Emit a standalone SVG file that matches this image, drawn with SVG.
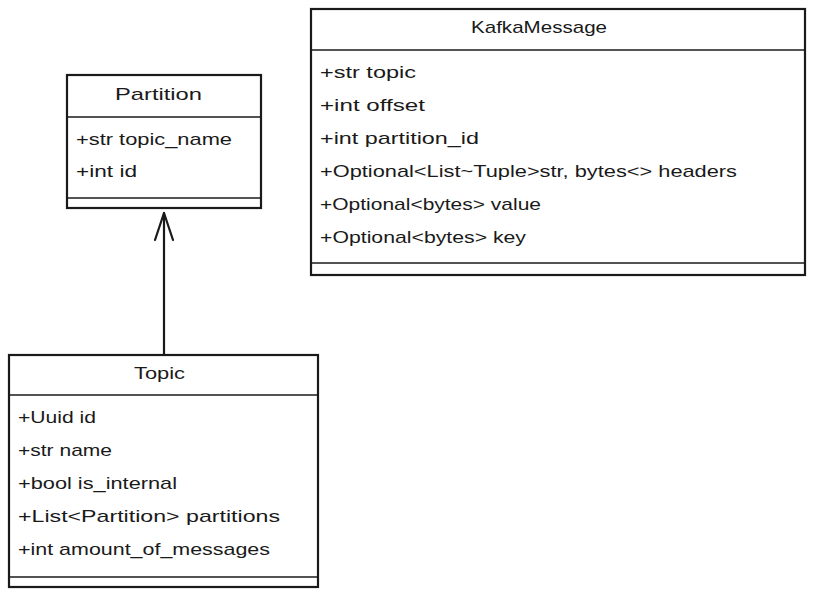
<svg xmlns="http://www.w3.org/2000/svg" width="814" height="598" viewBox="0 0 814 598">
<style>
.box{fill:#fff;stroke:#1a1a1a;stroke-width:2.2}
.div{stroke:#1a1a1a;stroke-width:1.3;fill:none}
.t{font-family:"Liberation Sans",Arial,sans-serif;font-size:17px;fill:#1a1a1a}
.c{text-anchor:middle}
.edge{stroke:#1a1a1a;stroke-width:2.2;fill:none;stroke-linecap:round;stroke-linejoin:round}
</style>
<rect width="814" height="598" fill="#fff"/>
<g id="edges">
<path class="edge" d="M164 354 L164 213"/>
<path class="edge" d="M155 240 L164 213 L173 240"/>
</g>
<g id="Partition">
<rect class="box" x="67" y="75" width="194" height="133"/>
<line class="div" x1="67" y1="117" x2="261" y2="117"/>
<line class="div" x1="67" y1="198" x2="261" y2="198"/>
<text class="t" x="115" y="100" textLength="87" lengthAdjust="spacingAndGlyphs">Partition</text>
<text class="t" x="76" y="145" textLength="156" lengthAdjust="spacingAndGlyphs">+str topic_name</text>
<text class="t" x="76" y="177" textLength="61" lengthAdjust="spacingAndGlyphs">+int id</text>
</g>
<g id="KafkaMessage">
<rect class="box" x="311" y="9" width="494" height="266"/>
<line class="div" x1="311" y1="50" x2="805" y2="50"/>
<line class="div" x1="311" y1="263" x2="805" y2="263"/>
<text class="t" x="471" y="33" textLength="136" lengthAdjust="spacingAndGlyphs">KafkaMessage</text>
<text class="t" x="320" y="78" textLength="96" lengthAdjust="spacingAndGlyphs">+str topic</text>
<text class="t" x="320" y="111" textLength="105" lengthAdjust="spacingAndGlyphs">+int offset</text>
<text class="t" x="320" y="144" textLength="159" lengthAdjust="spacingAndGlyphs">+int partition_id</text>
<text class="t" x="320" y="177" textLength="417" lengthAdjust="spacingAndGlyphs">+Optional&lt;List~Tuple&gt;str, bytes&lt;&gt; headers</text>
<text class="t" x="320" y="210" textLength="221" lengthAdjust="spacingAndGlyphs">+Optional&lt;bytes&gt; value</text>
<text class="t" x="320" y="243" textLength="206" lengthAdjust="spacingAndGlyphs">+Optional&lt;bytes&gt; key</text>
</g>
<g id="Topic">
<rect class="box" x="9" y="355" width="309" height="232"/>
<line class="div" x1="9" y1="395" x2="318" y2="395"/>
<line class="div" x1="9" y1="577" x2="318" y2="577"/>
<text class="t" x="134" y="379" textLength="51" lengthAdjust="spacingAndGlyphs">Topic</text>
<text class="t" x="18" y="423" textLength="78" lengthAdjust="spacingAndGlyphs">+Uuid id</text>
<text class="t" x="18" y="456" textLength="94" lengthAdjust="spacingAndGlyphs">+str name</text>
<text class="t" x="18" y="489" textLength="159" lengthAdjust="spacingAndGlyphs">+bool is_internal</text>
<text class="t" x="18" y="522" textLength="262" lengthAdjust="spacingAndGlyphs">+List&lt;Partition&gt; partitions</text>
<text class="t" x="18" y="555" textLength="252" lengthAdjust="spacingAndGlyphs">+int amount_of_messages</text>
</g>
</svg>
